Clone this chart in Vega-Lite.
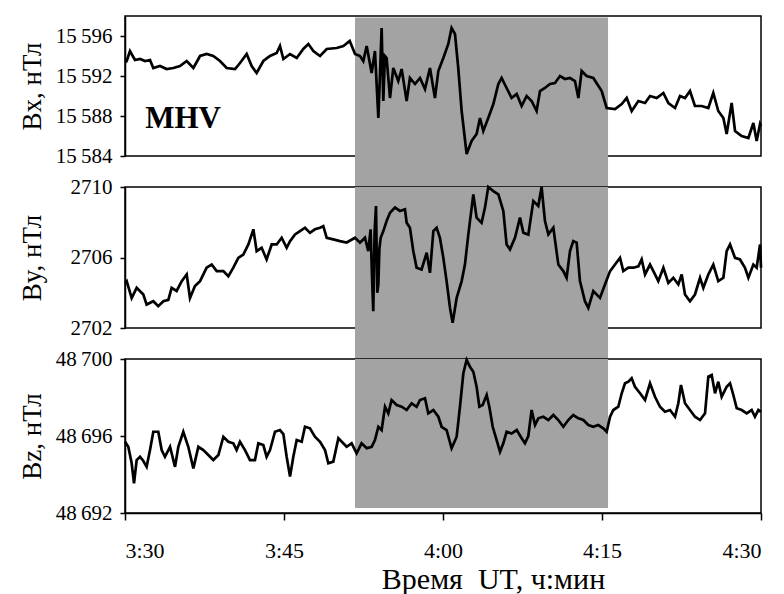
{
  "$schema": "https://vega.github.io/schema/vega-lite/v6.json",
  "padding": {"left": 17, "top": 15, "right": 6, "bottom": 2},
  "background": "white",
  "spacing": 31,
  "bounds": "flush",
  "config": {
    "view": {"stroke": "black", "strokeWidth": 1.5},
    "font": "Liberation Serif, Times New Roman, serif",
    "axis": {
      "domainColor": "black", "domainWidth": 1.5, "tickColor": "black", "tickWidth": 1.5,
      "labelColor": "black", "titleColor": "black", "labelFont": "Liberation Serif, Times New Roman, serif", "titleFont": "Liberation Serif, Times New Roman, serif",
      "grid": false, "labelFontSize": 21, "titleFontSize": 27, "titleFontWeight": "normal"
    },
    "axisY": {"tickSize": 5, "labelPadding": 8, "titleX": -85, "titleBaseline": "alphabetic"},
    "axisX": {"tickSize": 7, "labelPadding": 20, "labelFontSize": 22, "titleFontSize": 30, "titleX": 368, "titleY": 75, "titleBaseline": "alphabetic", "titleAlign": "center"}
  },
  "datasets": {
    "bx": [
      {"min": 0, "v": 15593.4}, {"min": 0.16, "v": 15593.5}, {"min": 0.47, "v": 15594.5}, {"min": 0.94, "v": 15593.6},
      {"min": 1.42, "v": 15593.7}, {"min": 1.89, "v": 15593.5}, {"min": 2.36, "v": 15593.6}, {"min": 2.67, "v": 15592.8},
      {"min": 3.3, "v": 15593.0}, {"min": 3.93, "v": 15592.7}, {"min": 4.56, "v": 15592.8}, {"min": 5.19, "v": 15593.0},
      {"min": 5.82, "v": 15593.5}, {"min": 6.45, "v": 15592.8}, {"min": 7.08, "v": 15594.0}, {"min": 7.7, "v": 15594.2},
      {"min": 8.33, "v": 15594.0}, {"min": 8.96, "v": 15593.5}, {"min": 9.59, "v": 15592.8}, {"min": 10.38, "v": 15592.7},
      {"min": 10.85, "v": 15593.3}, {"min": 11.48, "v": 15594.2}, {"min": 11.95, "v": 15593.0}, {"min": 12.42, "v": 15592.3},
      {"min": 13.05, "v": 15593.5}, {"min": 13.68, "v": 15594.0}, {"min": 14.31, "v": 15594.3}, {"min": 14.62, "v": 15595.0},
      {"min": 14.94, "v": 15593.7}, {"min": 15.57, "v": 15594.2}, {"min": 16.2, "v": 15593.8}, {"min": 16.82, "v": 15594.7},
      {"min": 17.3, "v": 15595.2}, {"min": 17.77, "v": 15594.5}, {"min": 18.4, "v": 15594.0}, {"min": 19.03, "v": 15594.7},
      {"min": 19.97, "v": 15594.8}, {"min": 20.6, "v": 15595.0}, {"min": 21.2, "v": 15595.5}, {"min": 21.7, "v": 15594.2},
      {"min": 22.17, "v": 15594.0}, {"min": 22.48, "v": 15593.5}, {"min": 22.8, "v": 15595.0}, {"min": 23.27, "v": 15592.3},
      {"min": 23.58, "v": 15594.5}, {"min": 23.9, "v": 15587.8}, {"min": 24.05, "v": 15592.0}, {"min": 24.21, "v": 15596.8},
      {"min": 24.37, "v": 15589.5}, {"min": 24.52, "v": 15594.0}, {"min": 24.68, "v": 15593.8}, {"min": 25.0, "v": 15589.8},
      {"min": 25.31, "v": 15592.8}, {"min": 25.78, "v": 15591.5}, {"min": 26.1, "v": 15592.7}, {"min": 26.57, "v": 15589.5},
      {"min": 26.88, "v": 15591.8}, {"min": 27.36, "v": 15591.2}, {"min": 27.83, "v": 15591.8}, {"min": 28.3, "v": 15590.7},
      {"min": 28.77, "v": 15592.8}, {"min": 29.24, "v": 15589.8}, {"min": 29.56, "v": 15592.5}, {"min": 30.03, "v": 15593.8},
      {"min": 30.5, "v": 15595.2}, {"min": 30.81, "v": 15596.8}, {"min": 31.13, "v": 15596.2}, {"min": 31.44, "v": 15592.8},
      {"min": 31.76, "v": 15588.5}, {"min": 32.23, "v": 15584.2}, {"min": 32.7, "v": 15585.5}, {"min": 33.17, "v": 15586.2},
      {"min": 33.49, "v": 15587.8}, {"min": 33.8, "v": 15586.5}, {"min": 34.27, "v": 15587.8}, {"min": 34.75, "v": 15589.2},
      {"min": 35.22, "v": 15591.2}, {"min": 35.53, "v": 15591.8}, {"min": 36.0, "v": 15590.8}, {"min": 36.47, "v": 15589.8},
      {"min": 36.95, "v": 15590.2}, {"min": 37.42, "v": 15589.0}, {"min": 37.89, "v": 15590.0}, {"min": 38.36, "v": 15589.5},
      {"min": 38.83, "v": 15588.5}, {"min": 39.15, "v": 15590.5}, {"min": 39.62, "v": 15590.8}, {"min": 40.09, "v": 15591.2},
      {"min": 40.56, "v": 15591.3}, {"min": 41.04, "v": 15592.0}, {"min": 41.51, "v": 15591.7}, {"min": 41.98, "v": 15591.8},
      {"min": 42.45, "v": 15591.5}, {"min": 42.77, "v": 15589.8}, {"min": 43.08, "v": 15592.5}, {"min": 43.55, "v": 15592.0},
      {"min": 44.18, "v": 15591.8}, {"min": 44.97, "v": 15590.5}, {"min": 45.44, "v": 15588.8}, {"min": 46.23, "v": 15588.7},
      {"min": 46.86, "v": 15589.2}, {"min": 47.33, "v": 15589.8}, {"min": 47.8, "v": 15588.5}, {"min": 48.43, "v": 15589.5},
      {"min": 49.06, "v": 15589.3}, {"min": 49.53, "v": 15590.0}, {"min": 50.16, "v": 15589.8}, {"min": 50.79, "v": 15590.3},
      {"min": 51.26, "v": 15589.3}, {"min": 51.89, "v": 15588.8}, {"min": 52.36, "v": 15590.0}, {"min": 52.83, "v": 15589.8},
      {"min": 53.3, "v": 15590.5}, {"min": 53.77, "v": 15589.0}, {"min": 54.4, "v": 15589.0}, {"min": 55.03, "v": 15588.8},
      {"min": 55.5, "v": 15590.3}, {"min": 55.97, "v": 15588.5}, {"min": 56.45, "v": 15587.8}, {"min": 56.76, "v": 15586.2},
      {"min": 57.23, "v": 15589.3}, {"min": 57.55, "v": 15586.5}, {"min": 58.18, "v": 15586.0}, {"min": 58.81, "v": 15585.8},
      {"min": 59.28, "v": 15587.3}, {"min": 59.59, "v": 15585.5}, {"min": 59.91, "v": 15587.2}, {"min": 60, "v": 15587.0}
    ],
    "by": [
      {"min": 0, "v": 2704.56}, {"min": 0.16, "v": 2704.66}, {"min": 0.63, "v": 2703.7}, {"min": 1.1, "v": 2704.28},
      {"min": 1.73, "v": 2703.9}, {"min": 2.04, "v": 2703.33}, {"min": 2.67, "v": 2703.52}, {"min": 3.14, "v": 2703.24},
      {"min": 3.62, "v": 2703.52}, {"min": 4.09, "v": 2703.6}, {"min": 4.4, "v": 2704.28}, {"min": 4.87, "v": 2704.1},
      {"min": 5.35, "v": 2704.66}, {"min": 5.82, "v": 2705.04}, {"min": 6.13, "v": 2703.7}, {"min": 6.6, "v": 2704.38},
      {"min": 7.08, "v": 2704.66}, {"min": 7.7, "v": 2705.42}, {"min": 8.18, "v": 2705.6}, {"min": 8.65, "v": 2705.23},
      {"min": 9.28, "v": 2705.23}, {"min": 9.75, "v": 2704.94}, {"min": 10.22, "v": 2705.42}, {"min": 10.69, "v": 2705.98},
      {"min": 11.16, "v": 2706.17}, {"min": 11.64, "v": 2706.74}, {"min": 12.11, "v": 2707.6}, {"min": 12.42, "v": 2706.36},
      {"min": 12.89, "v": 2706.55}, {"min": 13.36, "v": 2705.89}, {"min": 13.84, "v": 2706.74}, {"min": 14.31, "v": 2706.74},
      {"min": 14.78, "v": 2707.12}, {"min": 15.25, "v": 2706.55}, {"min": 15.57, "v": 2706.93}, {"min": 16.04, "v": 2707.31},
      {"min": 16.51, "v": 2707.5}, {"min": 16.98, "v": 2707.69}, {"min": 17.45, "v": 2707.4}, {"min": 17.92, "v": 2707.6},
      {"min": 18.4, "v": 2707.69}, {"min": 18.71, "v": 2707.78}, {"min": 19.03, "v": 2707.12}, {"min": 19.65, "v": 2707.03},
      {"min": 20.28, "v": 2706.93}, {"min": 20.91, "v": 2706.85}, {"min": 21.7, "v": 2707.12}, {"min": 22.17, "v": 2706.84},
      {"min": 22.64, "v": 2707.12}, {"min": 22.95, "v": 2706.36}, {"min": 23.17, "v": 2707.6}, {"min": 23.3, "v": 2705.0},
      {"min": 23.42, "v": 2702.95}, {"min": 23.55, "v": 2707.5}, {"min": 23.68, "v": 2708.92}, {"min": 23.8, "v": 2704.0},
      {"min": 23.9, "v": 2704.47}, {"min": 24.0, "v": 2706.5}, {"min": 24.12, "v": 2707.12}, {"min": 24.37, "v": 2707.5},
      {"min": 24.68, "v": 2708.07}, {"min": 25.0, "v": 2708.54}, {"min": 25.47, "v": 2708.83}, {"min": 25.94, "v": 2708.64},
      {"min": 26.41, "v": 2708.74}, {"min": 26.57, "v": 2707.97}, {"min": 26.88, "v": 2707.69}, {"min": 27.2, "v": 2706.36},
      {"min": 27.51, "v": 2705.42}, {"min": 27.98, "v": 2705.32}, {"min": 28.46, "v": 2706.27}, {"min": 28.77, "v": 2705.13},
      {"min": 29.09, "v": 2707.5}, {"min": 29.4, "v": 2707.69}, {"min": 29.71, "v": 2707.12}, {"min": 30.03, "v": 2705.98},
      {"min": 30.34, "v": 2704.66}, {"min": 30.66, "v": 2703.14}, {"min": 30.91, "v": 2702.29}, {"min": 31.29, "v": 2703.71},
      {"min": 31.76, "v": 2704.66}, {"min": 32.07, "v": 2705.6}, {"min": 32.39, "v": 2707.31}, {"min": 32.86, "v": 2709.58},
      {"min": 33.17, "v": 2708.26}, {"min": 33.64, "v": 2707.97}, {"min": 33.96, "v": 2708.83}, {"min": 34.27, "v": 2710.0},
      {"min": 34.75, "v": 2709.77}, {"min": 35.22, "v": 2709.58}, {"min": 35.69, "v": 2708.64}, {"min": 36.0, "v": 2706.74},
      {"min": 36.32, "v": 2706.46}, {"min": 36.79, "v": 2707.12}, {"min": 37.26, "v": 2708.26}, {"min": 37.58, "v": 2707.41},
      {"min": 38.05, "v": 2707.3}, {"min": 38.52, "v": 2709.2}, {"min": 38.99, "v": 2708.92}, {"min": 39.3, "v": 2710.0},
      {"min": 39.62, "v": 2708.07}, {"min": 39.94, "v": 2707.31}, {"min": 40.41, "v": 2707.69}, {"min": 40.88, "v": 2705.6},
      {"min": 41.35, "v": 2705.23}, {"min": 41.66, "v": 2704.85}, {"min": 41.98, "v": 2706.36}, {"min": 42.29, "v": 2706.93},
      {"min": 42.61, "v": 2706.84}, {"min": 42.92, "v": 2704.66}, {"min": 43.39, "v": 2703.52}, {"min": 43.71, "v": 2703.14},
      {"min": 44.18, "v": 2704.09}, {"min": 44.81, "v": 2703.71}, {"min": 45.28, "v": 2704.47}, {"min": 45.76, "v": 2705.23},
      {"min": 46.23, "v": 2705.6}, {"min": 46.7, "v": 2705.98}, {"min": 47.01, "v": 2705.23}, {"min": 47.49, "v": 2705.42},
      {"min": 47.96, "v": 2705.42}, {"min": 48.43, "v": 2705.5}, {"min": 48.74, "v": 2705.89}, {"min": 49.06, "v": 2705.04},
      {"min": 49.53, "v": 2705.6}, {"min": 50.0, "v": 2705.04}, {"min": 50.31, "v": 2704.66}, {"min": 50.79, "v": 2705.42},
      {"min": 51.26, "v": 2704.56}, {"min": 51.73, "v": 2704.85}, {"min": 52.2, "v": 2704.47}, {"min": 52.52, "v": 2705.04},
      {"min": 52.83, "v": 2703.9}, {"min": 53.3, "v": 2703.52}, {"min": 53.77, "v": 2703.9}, {"min": 54.25, "v": 2704.85},
      {"min": 54.56, "v": 2704.28}, {"min": 55.03, "v": 2705.04}, {"min": 55.5, "v": 2705.6}, {"min": 55.97, "v": 2704.66},
      {"min": 56.45, "v": 2704.85}, {"min": 56.76, "v": 2706.36}, {"min": 57.08, "v": 2706.74}, {"min": 57.55, "v": 2705.98},
      {"min": 58.02, "v": 2705.89}, {"min": 58.49, "v": 2705.42}, {"min": 58.81, "v": 2704.85}, {"min": 59.28, "v": 2705.6},
      {"min": 59.59, "v": 2705.42}, {"min": 59.91, "v": 2706.74}, {"min": 60, "v": 2705.42}
    ],
    "bz": [
      {"min": 0, "v": 48695.7}, {"min": 0.31, "v": 48695.44}, {"min": 0.63, "v": 48694.58}, {"min": 0.85, "v": 48693.54},
      {"min": 1.1, "v": 48694.75}, {"min": 1.42, "v": 48694.92}, {"min": 1.73, "v": 48694.7}, {"min": 2.04, "v": 48694.4},
      {"min": 2.36, "v": 48695.27}, {"min": 2.67, "v": 48696.22}, {"min": 3.14, "v": 48696.22}, {"min": 3.46, "v": 48695.27},
      {"min": 3.77, "v": 48694.92}, {"min": 4.25, "v": 48695.44}, {"min": 4.72, "v": 48694.4}, {"min": 5.03, "v": 48695.44},
      {"min": 5.5, "v": 48696.22}, {"min": 5.97, "v": 48695.44}, {"min": 6.45, "v": 48694.32}, {"min": 6.92, "v": 48695.44},
      {"min": 7.39, "v": 48695.27}, {"min": 7.86, "v": 48695.01}, {"min": 8.33, "v": 48694.75}, {"min": 8.81, "v": 48695.01},
      {"min": 9.28, "v": 48695.96}, {"min": 9.75, "v": 48695.7}, {"min": 10.22, "v": 48695.62}, {"min": 10.53, "v": 48695.27},
      {"min": 10.85, "v": 48695.7}, {"min": 11.32, "v": 48695.27}, {"min": 11.79, "v": 48694.75}, {"min": 12.26, "v": 48694.75},
      {"min": 12.58, "v": 48695.62}, {"min": 13.05, "v": 48695.53}, {"min": 13.36, "v": 48694.92}, {"min": 13.68, "v": 48695.27},
      {"min": 14.15, "v": 48696.22}, {"min": 14.62, "v": 48696.31}, {"min": 14.94, "v": 48696.1}, {"min": 15.25, "v": 48694.92},
      {"min": 15.57, "v": 48693.89}, {"min": 15.88, "v": 48694.92}, {"min": 16.2, "v": 48695.79}, {"min": 16.67, "v": 48695.7},
      {"min": 16.98, "v": 48696.48}, {"min": 17.45, "v": 48696.4}, {"min": 17.92, "v": 48695.96}, {"min": 18.4, "v": 48695.7},
      {"min": 18.87, "v": 48695.27}, {"min": 19.18, "v": 48694.58}, {"min": 19.65, "v": 48694.67}, {"min": 20.13, "v": 48695.88},
      {"min": 20.91, "v": 48695.44}, {"min": 21.38, "v": 48695.62}, {"min": 21.85, "v": 48695.1}, {"min": 22.32, "v": 48695.62},
      {"min": 22.8, "v": 48695.36}, {"min": 23.27, "v": 48695.44}, {"min": 23.58, "v": 48695.79}, {"min": 23.9, "v": 48696.48},
      {"min": 24.21, "v": 48696.31}, {"min": 24.53, "v": 48697.52}, {"min": 24.84, "v": 48697.18}, {"min": 25.15, "v": 48697.87},
      {"min": 25.63, "v": 48697.61}, {"min": 26.1, "v": 48697.52}, {"min": 26.57, "v": 48697.35}, {"min": 27.04, "v": 48697.7},
      {"min": 27.51, "v": 48697.52}, {"min": 27.83, "v": 48697.87}, {"min": 28.3, "v": 48697.96}, {"min": 28.61, "v": 48697.18},
      {"min": 29.09, "v": 48697.35}, {"min": 29.56, "v": 48697.0}, {"min": 29.87, "v": 48696.48}, {"min": 30.34, "v": 48696.31},
      {"min": 30.81, "v": 48695.36}, {"min": 31.29, "v": 48695.96}, {"min": 31.6, "v": 48697.52}, {"min": 31.92, "v": 48699.26},
      {"min": 32.23, "v": 48699.95}, {"min": 32.54, "v": 48699.6}, {"min": 32.86, "v": 48699.34}, {"min": 33.17, "v": 48698.56},
      {"min": 33.43, "v": 48697.52}, {"min": 33.74, "v": 48697.61}, {"min": 34.12, "v": 48698.13}, {"min": 34.37, "v": 48697.52},
      {"min": 34.69, "v": 48696.48}, {"min": 35.06, "v": 48695.79}, {"min": 35.38, "v": 48695.18}, {"min": 35.69, "v": 48695.62},
      {"min": 36.0, "v": 48696.22}, {"min": 36.47, "v": 48696.13}, {"min": 36.95, "v": 48696.31}, {"min": 37.42, "v": 48695.88},
      {"min": 37.73, "v": 48695.62}, {"min": 38.05, "v": 48696.0}, {"min": 38.36, "v": 48697.35}, {"min": 38.68, "v": 48696.57},
      {"min": 38.99, "v": 48696.92}, {"min": 39.46, "v": 48697.0}, {"min": 39.94, "v": 48696.83}, {"min": 40.41, "v": 48697.09},
      {"min": 40.88, "v": 48696.83}, {"min": 41.35, "v": 48696.48}, {"min": 41.82, "v": 48696.83}, {"min": 42.29, "v": 48697.09},
      {"min": 42.77, "v": 48696.92}, {"min": 43.24, "v": 48696.83}, {"min": 43.71, "v": 48696.57}, {"min": 44.18, "v": 48696.48},
      {"min": 44.65, "v": 48696.57}, {"min": 45.12, "v": 48696.4}, {"min": 45.44, "v": 48696.22}, {"min": 45.76, "v": 48697.0},
      {"min": 46.07, "v": 48697.35}, {"min": 46.54, "v": 48697.52}, {"min": 46.86, "v": 48698.22}, {"min": 47.17, "v": 48698.74},
      {"min": 47.49, "v": 48698.82}, {"min": 47.8, "v": 48699.0}, {"min": 48.11, "v": 48698.56}, {"min": 48.59, "v": 48698.22},
      {"min": 49.06, "v": 48697.87}, {"min": 49.53, "v": 48698.74}, {"min": 50.0, "v": 48698.04}, {"min": 50.47, "v": 48697.52},
      {"min": 50.94, "v": 48697.26}, {"min": 51.42, "v": 48697.35}, {"min": 51.89, "v": 48697.0}, {"min": 52.2, "v": 48697.7},
      {"min": 52.45, "v": 48698.65}, {"min": 52.83, "v": 48697.7}, {"min": 53.3, "v": 48697.35}, {"min": 53.77, "v": 48697.0},
      {"min": 54.25, "v": 48696.83}, {"min": 54.72, "v": 48697.18}, {"min": 55.03, "v": 48699.08}, {"min": 55.35, "v": 48699.17},
      {"min": 55.66, "v": 48698.22}, {"min": 55.97, "v": 48698.82}, {"min": 56.29, "v": 48698.04}, {"min": 56.76, "v": 48698.56},
      {"min": 57.08, "v": 48698.74}, {"min": 57.39, "v": 48698.13}, {"min": 57.71, "v": 48697.44}, {"min": 58.18, "v": 48697.35},
      {"min": 58.65, "v": 48697.18}, {"min": 59.12, "v": 48697.35}, {"min": 59.43, "v": 48697.0}, {"min": 59.75, "v": 48697.35},
      {"min": 60, "v": 48697.26}
    ]
  },
  "vconcat": [
    {
      "width": 636, "height": 140,
      "layer": [
        {
          "data": {"values": [{}]},
          "mark": {"type": "rect", "color": "#a3a3a3", "clip": false},
          "encoding": {
            "x": {"datum": 21.7, "type": "quantitative", "scale": {"domain": [0, 60], "nice": false, "zero": false}, "axis": null},
            "x2": {"datum": 45.57},
            "y": {"datum": 15597.85, "type": "quantitative", "scale": {"domain": [15584, 15598], "nice": false, "zero": false}},
            "y2": {"datum": 15580.9}
          }
        },
        {
          "data": {"name": "bx"},
          "mark": {"type": "line", "color": "black", "strokeWidth": 2.7},
          "encoding": {
            "x": {"field": "min", "type": "quantitative"},
            "y": {"field": "v", "type": "quantitative",
              "axis": {"values": [15584, 15588, 15592, 15596], "title": "Bx, нТл",
                "labelExpr": "replace(format(datum.value, ','), ',', '\u2009')"}}
          }
        },
        {
          "data": {"values": [{}]},
          "mark": {"type": "text", "align": "left", "baseline": "alphabetic", "fontSize": 31, "fontWeight": "bold", "font": "Liberation Serif, Times New Roman, serif", "color": "black"},
          "encoding": {
            "x": {"datum": 1.9, "type": "quantitative"},
            "y": {"datum": 15586.85, "type": "quantitative"},
            "text": {"value": "MHV"}
          }
        }
      ]
    },
    {
      "width": 636, "height": 141,
      "layer": [
        {
          "data": {"values": [{}]},
          "mark": {"type": "rect", "color": "#a3a3a3", "clip": false},
          "encoding": {
            "x": {"datum": 21.7, "type": "quantitative", "scale": {"domain": [0, 60], "nice": false, "zero": false}, "axis": null},
            "x2": {"datum": 45.57},
            "y": {"datum": 2710, "type": "quantitative", "scale": {"domain": [2702, 2710], "nice": false, "zero": false}},
            "y2": {"datum": 2700.18}
          }
        },
        {
          "data": {"name": "by"},
          "mark": {"type": "line", "color": "black", "strokeWidth": 2.7},
          "encoding": {
            "x": {"field": "min", "type": "quantitative"},
            "y": {"field": "v", "type": "quantitative",
              "axis": {"values": [2702, 2706, 2710], "title": "By, нТл", "format": "d"}}
          }
        }
      ]
    },
    {
      "width": 636, "height": 154,
      "layer": [
        {
          "data": {"values": [{}]},
          "mark": {"type": "rect", "color": "#a3a3a3", "clip": false},
          "encoding": {
            "x": {"datum": 21.7, "type": "quantitative", "scale": {"domain": [0, 60], "nice": false, "zero": false},
              "axis": {"values": [0, 15, 30, 45, 60], "title": "Время\u00a0 UT, ч:мин",
                "labelExpr": "floor((210+datum.value)/60) + ':' + (((210+datum.value)%60) < 10 ? '0' : '') + ((210+datum.value)%60)"}},
            "x2": {"datum": 45.57},
            "y": {"datum": 48700, "type": "quantitative", "scale": {"domain": [48692, 48700], "nice": false, "zero": false}},
            "y2": {"datum": 48692.26}
          }
        },
        {
          "data": {"name": "bz"},
          "mark": {"type": "line", "color": "black", "strokeWidth": 2.7},
          "encoding": {
            "x": {"field": "min", "type": "quantitative"},
            "y": {"field": "v", "type": "quantitative",
              "axis": {"values": [48692, 48696, 48700], "title": "Bz, нТл",
                "labelExpr": "replace(format(datum.value, ','), ',', '\u2009')"}}
          }
        }
      ]
    }
  ]
}
